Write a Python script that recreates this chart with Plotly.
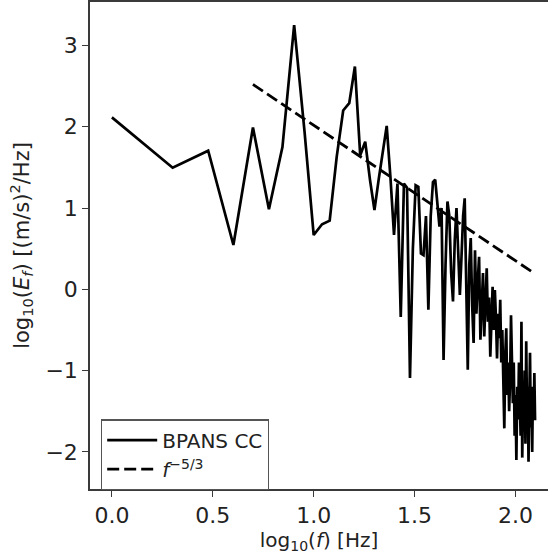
import numpy as np
import plotly.graph_objects as go

# Frequencies (Hz) and measured spectrum log10(E_f)
freq_hz = list(range(1, 126))
log_E = [
    2.115, 1.496, 1.705, 0.545, 1.99, 0.984, 1.75, 3.25, 1.95, 0.668,   # 1-10
    0.80, 0.844, 1.63, 2.20, 2.29, 2.74, 1.65, 1.815, 1.35, 0.975,      # 11-20
    1.355, 1.70, 2.01, 1.38, 0.668, 1.30, -0.34, 1.30, 1.25, -1.09,     # 21-30
    0.50, 1.28, 1.26, 0.44, 0.42, 0.90, -0.25, 0.90, 1.32, 1.35,       # 31-40
    1.10, 0.77, 1.00, -0.87, 0.30, 1.08, 0.90, 0.20, -0.15, 0.60,      # 41-50
    1.00, 0.50, -0.07, 0.40, 0.90, 1.12, 0.20, -0.99, 0.30, 0.63,      # 51-60
    -0.20, -0.66, 0.48, -0.30, 0.10, 0.40, -0.62, -0.10, 0.20, -0.58,  # 61-70
    -0.20, 0.26, -0.40, -0.10, -0.83, -0.30, 0.03, -0.50, -0.01, -0.35,  # 71-80
    -0.85, -0.30, -0.60, -0.13, -0.90, -0.50, -1.20, -1.71, -0.80, -0.48,  # 81-90
    -1.30, -0.90, -1.50, -1.10, -0.32, -1.00, -1.40, -0.90, -1.80, -1.30,  # 91-100
    -2.10, -1.20, -1.60, -0.90, -1.40, -1.80, -0.40, -2.07, -1.30, -1.70,  # 101-110
    -1.00, -1.90, -0.64, -1.50, -1.20, -2.12, -1.40, -0.78, -1.70, -1.30,  # 111-120
    -2.00, -1.20, -1.61, -1.03, -1.61,                                     # 121-125
]

# f^(-5/3) reference line (two end points, log10 values)
ref_freq_hz = [5, 125]
ref_log_E = [2.52, 0.19]

x_tick_vals = [0.0, 0.5, 1.0, 1.5, 2.0]
x_tick_text = ["0.0", "0.5", "1.0", "1.5", "2.0"]
y_tick_vals = [-2, -1, 0, 1, 2, 3]

log_f = np.log10(freq_hz)
ref_log_f = np.log10(ref_freq_hz)

FONT = "DejaVu Sans"
fig = go.Figure()
fig.add_trace(go.Scatter(
    x=log_f, y=log_E, mode="lines", name="BPANS CC",
    line=dict(color="black", width=2.7),
))
fig.add_trace(go.Scatter(
    x=ref_log_f, y=ref_log_E, mode="lines",
    name="<i>f</i><sup>−5/3</sup>",
    line=dict(color="black", width=2.8, dash="12px,5px"),
))

axis_common = dict(
    showgrid=False, zeroline=False, showline=True, linecolor="#3a3a3a",
    linewidth=1.5, ticks="outside", ticklen=6, tickwidth=1.3, tickcolor="#3a3a3a",
    tickfont=dict(family=FONT, size=22, color="#222"),
    automargin=False,
)
fig.update_layout(
    width=548, height=554,
    margin=dict(l=90, r=0, t=2, b=65),
    paper_bgcolor="white", plot_bgcolor="white",
    font=dict(family=FONT, size=19, color="#222"),
    xaxis=dict(
        range=[-0.1085, 2.161], tickvals=x_tick_vals, ticktext=x_tick_text,
        mirror=True,
        title=dict(text="log<sub>10</sub>(<i>f</i>) [Hz]", font=dict(family=FONT, size=20), standoff=7),
        **axis_common,
    ),
    yaxis=dict(
        range=[-2.456, 3.534], tickvals=y_tick_vals,
        title=dict(text="log<sub>10</sub>(<i>E<sub>f</sub></i>) [(m/s)<sup>2</sup>/Hz]",
                   font=dict(family=FONT, size=21), standoff=10),
        **axis_common,
    ),
    legend=dict(
        x=0.024, y=-0.003, xanchor="left", yanchor="bottom",
        bgcolor="white", bordercolor="#555", borderwidth=1.2,
        font=dict(family=FONT, size=20, color="#222"),
        itemwidth=50, tracegroupgap=0,
    ),
    showlegend=True,
)

fig.write_html("out.html", config={"displayModeBar": False},
               post_script="document.body.style.margin='0px';")
